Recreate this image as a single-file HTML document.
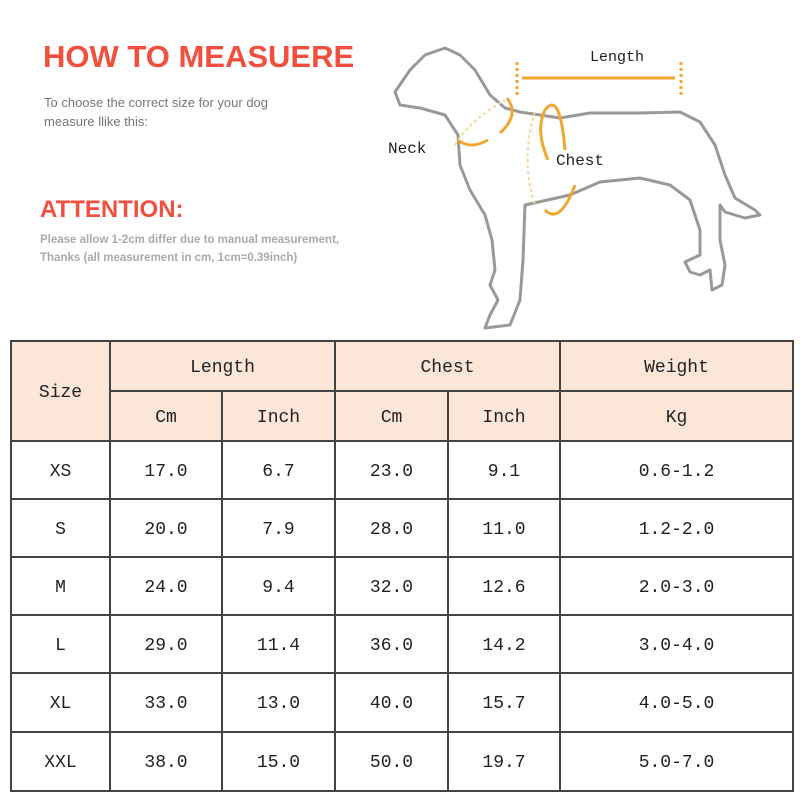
<!DOCTYPE html>
<html><head><style>
body{margin:0;width:800px;height:800px;background:#fff;position:relative;overflow:hidden;font-family:"Liberation Sans",sans-serif}
.t{position:absolute;white-space:nowrap}
table{position:absolute;left:10px;top:340px;border-collapse:collapse;font-family:"Liberation Mono",monospace;color:#222;font-size:18px}
td{border:2px solid #444;text-align:center;padding:3px 0 0 0}
.h{background:#fbe6d8}
</style></head><body>
<div class="t" style="left:43px;top:39px;font-size:31px;font-weight:bold;color:#f2503f">HOW TO MEASUERE</div>
<div class="t" style="left:44px;top:93px;font-size:13px;color:#777;line-height:19px">To choose the correct size for your dog<br>measure llike this:</div>
<div class="t" style="left:40px;top:196px;font-size:24px;font-weight:bold;color:#f2503f">ATTENTION:</div>
<div class="t" style="left:40px;top:231px;font-size:11.5px;font-weight:bold;color:#aaa;line-height:18px">Please allow 1-2cm differ due to manual measurement,<br>Thanks (all measurement in cm, 1cm=0.39inch)</div>
<svg style="position:absolute;left:0;top:0" width="800" height="340">
<path d="M395,92 L410,70 L425,55 L445,48 L460,55 L475,70 L490,95 L505,108 L520,112 L560,118 L590,113 L640,113 L680,112 L700,122 L715,145 L725,175 L735,198 L755,210 L760,215 L745,218 L725,212 L720,205 L720,240 L725,265 L722,285 L712,290 L710,270 L700,275 L690,272 L685,262 L700,255 L700,230 L690,200 L670,185 L640,178 L600,182 L570,195 L525,205 L523,260 L520,300 L510,325 L485,328 L490,315 L498,300 L490,285 L495,270 L492,240 L485,215 L470,190 L460,165 L458,135 L445,115 L420,108 L400,105 Z" fill="none" stroke="#999" stroke-width="3" stroke-linejoin="round"/>
<g stroke="#f0a732" stroke-width="3" fill="none">
<line x1="522" y1="78" x2="675" y2="78"/>
<path d="M517,62 V95 M681,62 V95" stroke-dasharray="3,3"/>
<path d="M507,98 Q520,115 500,133 M458,140 Q470,150 488,140"/>
<path d="M565,150 Q560,90 545,110 Q535,130 548,160" />
<path d="M575,185 Q560,225 545,210"/>
<path d="M455,145 Q470,120 505,100 M535,112 Q520,160 535,205" stroke="#f3d59a" stroke-dasharray="3,3" stroke-width="2"/>
</g>
<text x="590" y="61" font-family="Liberation Mono,monospace" font-size="15" fill="#222">Length</text>
<text x="388" y="153" font-family="Liberation Mono,monospace" font-size="16" fill="#222">Neck</text>
<text x="556" y="165" font-family="Liberation Mono,monospace" font-size="16" fill="#222">Chest</text>
</svg>
<table>
<tr style="height:50px"><td class="h" rowspan="2" style="width:97px">Size</td><td class="h" colspan="2">Length</td><td class="h" colspan="2">Chest</td><td class="h" style="width:231px">Weight</td></tr>
<tr style="height:50px"><td class="h" style="width:110px">Cm</td><td class="h" style="width:111px">Inch</td><td class="h" style="width:111px">Cm</td><td class="h" style="width:110px">Inch</td><td class="h">Kg</td></tr>
<tr style="height:58px"><td>XS</td><td>17.0</td><td>6.7</td><td>23.0</td><td>9.1</td><td>0.6-1.2</td></tr>
<tr style="height:58px"><td>S</td><td>20.0</td><td>7.9</td><td>28.0</td><td>11.0</td><td>1.2-2.0</td></tr>
<tr style="height:58px"><td>M</td><td>24.0</td><td>9.4</td><td>32.0</td><td>12.6</td><td>2.0-3.0</td></tr>
<tr style="height:58px"><td>L</td><td>29.0</td><td>11.4</td><td>36.0</td><td>14.2</td><td>3.0-4.0</td></tr>
<tr style="height:59px"><td>XL</td><td>33.0</td><td>13.0</td><td>40.0</td><td>15.7</td><td>4.0-5.0</td></tr>
<tr style="height:59px"><td>XXL</td><td>38.0</td><td>15.0</td><td>50.0</td><td>19.7</td><td>5.0-7.0</td></tr>
</table>
</body></html>
